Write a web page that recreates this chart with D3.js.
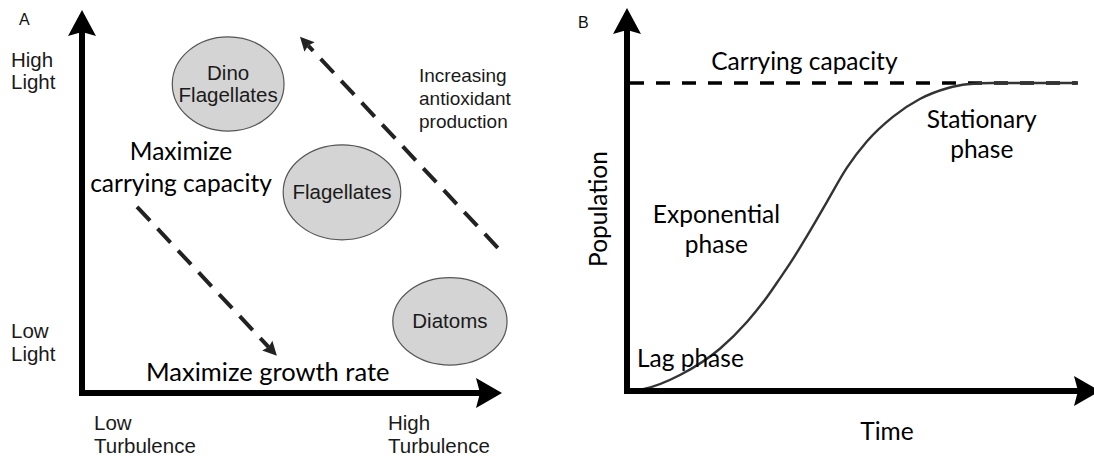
<!DOCTYPE html>
<html><head><meta charset="utf-8">
<script src="https://cdn.jsdelivr.net/npm/d3@7"></script>
<style>
html,body{margin:0;padding:0;background:#fff;}
svg{display:block;}
</style></head>
<body>
<svg id="chart" width="1094" height="456"></svg>
<script>
// ---------- Panel A data (turbulence 0-10, light 0-10) ----------
const organisms = ["Dino Flagellates", "Flagellates", "Diatoms"];
const orgLines = [["Dino", "Flagellates"], ["Flagellates"], ["Diatoms"]];
const orgTurbulence = [3.48, 6.19, 8.76];
const orgLight = [8.07, 5.24, 1.87];
const orgRadiusT = [1.33, 1.40, 1.36];
const orgRadiusL = [1.23, 1.24, 1.14];
const lightLabels = [["High", "Light"], ["Low", "Light"]];
const turbLabels = [["Low", "Turbulence"], ["High", "Turbulence"]];
// dashed trend arrows: from [T, L] to [T, L]
const trendArrows = [
  {name: "growth", from: [1.31, 4.86], to: [4.64, 0.97]},
  {name: "antioxidant", from: [9.90, 3.79], to: [5.19, 9.30]}
];
const antioxidantLabel = ["Increasing", "antioxidant", "production"];
const capacityLabelA = ["Maximize", "carrying capacity"];
const growthLabelA = "Maximize growth rate";

// ---------- Panel B data (time 0-100, population 0-100 = carrying capacity) ----------
const timeVals = [0.6, 3.4, 11.2, 19.7, 25.4, 29.6, 32.3, 34.5, 38.7, 42.3, 46.5, 50.7, 56.2, 61.9, 67.7, 71.9, 77.4, 95.3];
const popVals  = [0,   0.6, 5.2,  13.8, 22.5, 30.5, 36.5, 41.5, 52.0, 61.5, 72.5, 81.0, 89.0, 94.8, 98.3, 99.6, 100,  100];
const carryingCapacity = 100;
const phaseLabels = [
  {lines: ["Carrying capacity"], t: 37.5, p: 104.2},
  {lines: ["Stationary", "phase"], t: 75.0, p: 85.4},
  {lines: ["Exponential", "phase"], t: 18.9, p: 54.5},
  {lines: ["Lag phase"], t: 2.1, p: 7.8, anchor: "start"}
];

const svg = d3.select("#chart");
const ARIAL = "'Liberation Sans', Arial, sans-serif";
const CAL = "Lato, 'Open Sans', sans-serif";
const INK = "#111";

function arrowHead(g, tipX, tipY, angle, len, half, notch, color) {
  const ca = Math.cos(angle), sa = Math.sin(angle);
  const P = (back, side) => [tipX - back * ca - side * sa, tipY - back * sa + side * ca];
  const pts = [P(0, 0), P(len, half), P(len - notch, 0), P(len, -half)];
  g.append("path").attr("d", "M" + pts.map(p => p.join(",")).join("L") + "Z").attr("fill", color);
}

// ================= Panel A =================
const xA = d3.scaleLinear().domain([0, 10]).range([82, 502]);
const yA = d3.scaleLinear().domain([0, 10]).range([393, 10]);
const gA = svg.append("g");

gA.append("text").attr("x", 19).attr("y", 25).text("A")
  .attr("font-family", ARIAL).attr("font-size", 16).attr("fill", INK);

gA.append("line").attr("x1", xA(0)).attr("y1", yA(0) + 3).attr("x2", xA(0)).attr("y2", yA(10) + 20)
  .attr("stroke", "#000").attr("stroke-width", 6);
arrowHead(gA, xA(0), yA(10), -Math.PI / 2, 26, 14, 4, "#000");
gA.append("line").attr("x1", xA(0) - 3).attr("y1", yA(0)).attr("x2", xA(10) - 20).attr("y2", yA(0))
  .attr("stroke", "#000").attr("stroke-width", 6);
arrowHead(gA, xA(10), yA(0), 0, 26, 15, 4, "#000");

const lightY = [[67, 89], [338, 361]];
lightLabels.forEach((lab, i) => {
  lab.forEach((s, j) => gA.append("text").attr("x", 11).attr("y", lightY[i][j]).text(s)
    .attr("font-family", ARIAL).attr("font-size", 20.5).attr("fill", "#1a1a1a"));
});
const turbX = [94, 388];
turbLabels.forEach((lab, i) => {
  lab.forEach((s, j) => gA.append("text").attr("x", turbX[i]).attr("y", [430, 453][j]).text(s)
    .attr("font-family", ARIAL).attr("font-size", 20.5).attr("fill", "#1a1a1a"));
});

organisms.forEach((name, i) => {
  const cx = xA(orgTurbulence[i]), cy = yA(orgLight[i]);
  const rx = xA(orgRadiusT[i]) - xA(0), ry = yA(0) - yA(orgRadiusL[i]);
  gA.append("ellipse").attr("cx", cx).attr("cy", cy).attr("rx", rx).attr("ry", ry)
    .attr("fill", "#d4d4d4").attr("stroke", "#555").attr("stroke-width", 1.2);
  const lines = orgLines[i];
  const lh = 22;
  lines.forEach((s, j) => gA.append("text").attr("x", cx).attr("y", cy + 7 + (j - (lines.length - 1) / 2) * lh)
    .attr("text-anchor", "middle").text(s)
    .attr("font-family", ARIAL).attr("font-size", 20.5).attr("fill", "#1a1a1a"));
});

trendArrows.forEach(a => {
  const x1 = xA(a.from[0]), y1 = yA(a.from[1]), x2 = xA(a.to[0]), y2 = yA(a.to[1]);
  const ang = Math.atan2(y2 - y1, x2 - x1);
  const L = 14;
  gA.append("line").attr("x1", x1).attr("y1", y1)
    .attr("x2", x2 - (L - 2) * Math.cos(ang)).attr("y2", y2 - (L - 2) * Math.sin(ang))
    .attr("stroke", "#222").attr("stroke-width", 4).attr("stroke-dasharray", "19,11");
  arrowHead(gA, x2, y2, ang, L, 7, 2, "#222");
});

antioxidantLabel.forEach((s, j) => gA.append("text").attr("x", 419).attr("y", 82 + j * 23).text(s)
  .attr("font-family", ARIAL).attr("font-size", 19).attr("fill", "#1a1a1a"));
capacityLabelA.forEach((s, j) => gA.append("text").attr("x", 181).attr("y", [160, 192][j])
  .attr("text-anchor", "middle").text(s)
  .attr("font-family", CAL).attr("font-size", 24.5).attr("fill", "#000"));
gA.append("text").attr("x", 146).attr("y", 381).text(growthLabelA)
  .attr("font-family", CAL).attr("font-size", 25.5).attr("fill", "#000");

// ================= Panel B =================
const xB = d3.scaleLinear().domain([0, 100]).range([627, 1100]);
const yB = d3.scaleLinear().domain([0, 100]).range([391, 83]);
const gB = svg.append("g");

gB.append("text").attr("x", 578).attr("y", 28).text("B")
  .attr("font-family", ARIAL).attr("font-size", 16).attr("fill", INK);

gB.append("line").attr("x1", xB(0) + 3).attr("x2", xB(95.3)).attr("y1", yB(carryingCapacity)).attr("y2", yB(carryingCapacity))
  .attr("stroke", "#000").attr("stroke-width", 3.5).attr("stroke-dasharray", "14,12");

const curve = d3.line().x((d, i) => xB(timeVals[i])).y((d, i) => yB(popVals[i])).curve(d3.curveMonotoneX);
gB.append("path").attr("d", curve(timeVals)).attr("fill", "none").attr("stroke", "#333").attr("stroke-width", 2.4);

gB.append("line").attr("x1", xB(0)).attr("y1", yB(0) + 3).attr("x2", xB(0)).attr("y2", 30)
  .attr("stroke", "#000").attr("stroke-width", 6);
arrowHead(gB, xB(0), 8, -Math.PI / 2, 26, 14, 4, "#000");
gB.append("line").attr("x1", xB(0) - 3).attr("y1", yB(0)).attr("x2", xB(100) - 20).attr("y2", yB(0))
  .attr("stroke", "#000").attr("stroke-width", 6);
arrowHead(gB, xB(100), yB(0), 0, 26, 15, 4, "#000");

phaseLabels.forEach(l => {
  l.lines.forEach((s, j) => gB.append("text")
    .attr("x", xB(l.t)).attr("y", yB(l.p) + j * 30)
    .attr("text-anchor", l.anchor || "middle").text(s)
    .attr("font-family", CAL).attr("font-size", 24.5).attr("fill", "#000"));
});
gB.append("text").attr("x", 887).attr("y", 440).attr("text-anchor", "middle").text("Time")
  .attr("font-family", CAL).attr("font-size", 24.5).attr("fill", "#000");
gB.append("text").attr("transform", "translate(607,209) rotate(-90)").attr("text-anchor", "middle").text("Population")
  .attr("font-family", CAL).attr("font-size", 24.5).attr("fill", "#000");
</script>
</body></html>
